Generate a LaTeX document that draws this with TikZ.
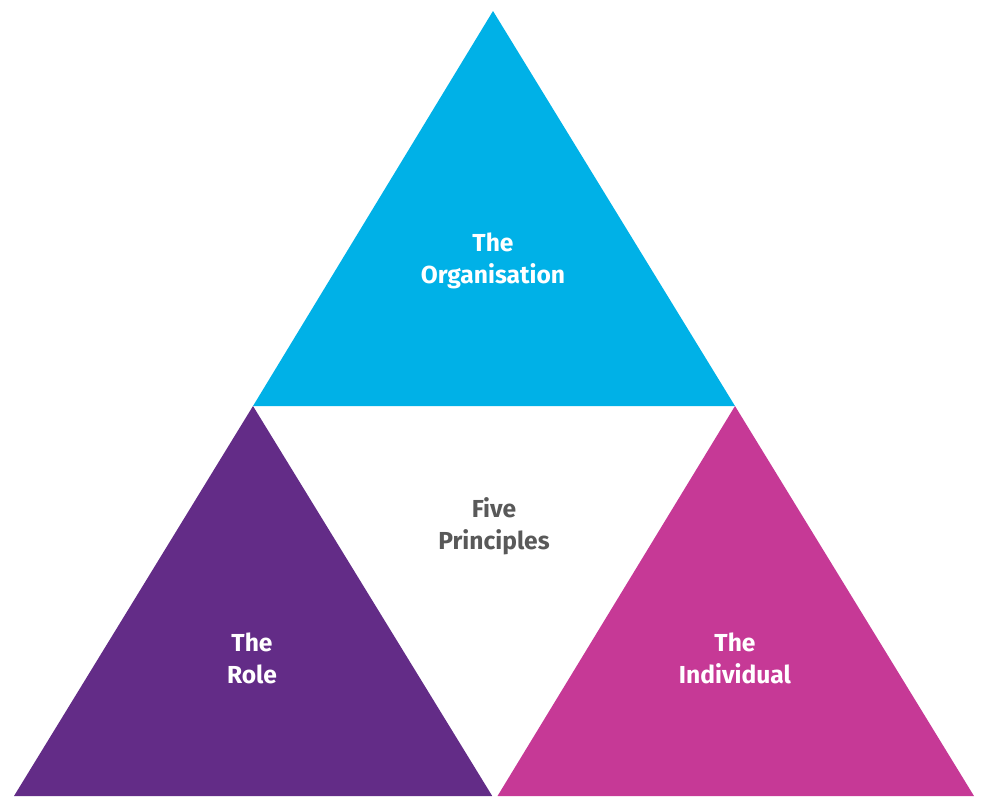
\documentclass[tikz,border=0pt]{standalone}
\usepackage{fontspec}
\setmainfont{Fira Sans}
\definecolor{orgblue}{HTML}{00B1E7}
\definecolor{rolepurple}{HTML}{632C87}
\definecolor{indmagenta}{HTML}{C63996}
\definecolor{fivegray}{HTML}{595959}
\begin{document}
\begin{tikzpicture}[x=0.02cm, y=-0.02cm]

      \tikzset{label text/.style={align=center, font=\fontsize{14}{18.2}\selectfont\bfseries, text=white, inner sep=0pt}}
      \useasboundingbox (0,0) rectangle (981,796);
%% Corners
      	\coordinate (top) at (493,11);
      	\coordinate (midl) at (253,406);
      	\coordinate (midr) at (735,406);
      	\coordinate (botl) at (14,796);
      	\coordinate (botm) at (494,796);
      	\coordinate (botr) at (974,796);
%Triangles
		\fill[orgblue] (top) -- (midr) -- (midl) -- cycle;
		\fill[rolepurple] (midl) -- ([xshift=-1]botm) -- (botl) -- cycle;
		\fill[indmagenta] (midr) -- (botr) -- ([xshift=2]botm) -- cycle;
%Labels
		\node[label text] (org) at (493,261) {The\\Organisation};
		\node[label text, text=fivegray] (five) at (494,526) {Five\\Principles};
		\node[label text] (role) at (252,658) {The\\Role};
		\node[label text] (ind) at (735,658) {The\\Individual};

	\end{tikzpicture}
\end{document}
